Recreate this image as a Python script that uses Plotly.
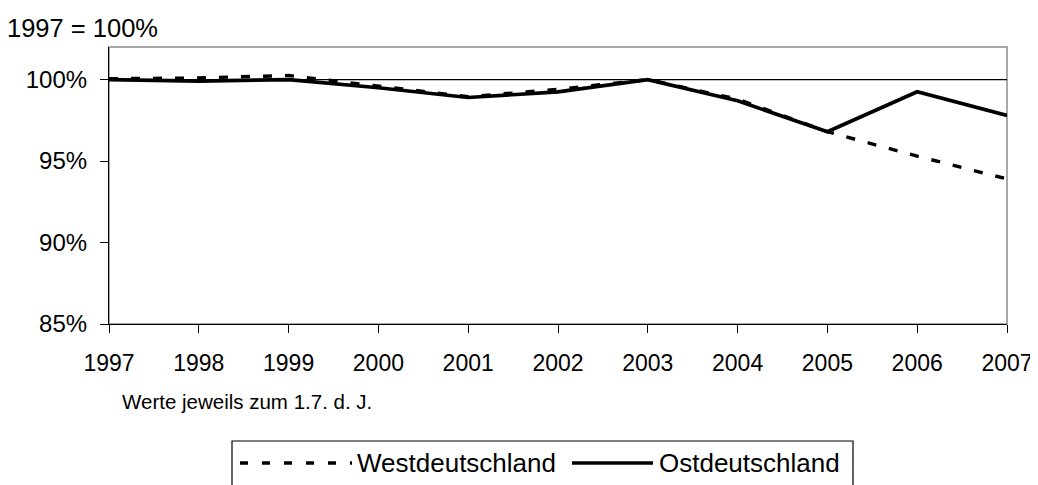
import plotly.graph_objects as go

years = [1997, 1998, 1999, 2000, 2001, 2002, 2003, 2004, 2005, 2006, 2007]
west = [100.05, 100.1, 100.25, 99.6, 98.95, 99.4, 100.0, 98.8, 96.8, 95.3, 93.9]
ost = [100.0, 99.9, 100.0, 99.5, 98.9, 99.25, 100.0, 98.7, 96.8, 99.25, 97.8]
y_ticks = [85, 90, 95, 100]
y_tick_labels = ["85%", "90%", "95%", "100%"]
series_names = ["Westdeutschland", "Ostdeutschland"]

FONT = "Liberation Sans, Arial, sans-serif"

fig = go.Figure()
fig.add_trace(go.Scatter(x=years, y=west, mode="lines", name=series_names[0],
                         line=dict(color="black", width=3.4, dash="9px,13px"),
                         showlegend=False))
fig.add_trace(go.Scatter(x=years, y=ost, mode="lines", name=series_names[1],
                         line=dict(color="black", width=3.7),
                         showlegend=False))

# page has an 8px body margin; figure coordinates are page coords minus 8
W, H = 1030, 477
ml, mr, mt, mb = 101, 31, 39, 161
pw, ph = W - ml - mr, H - mt - mb

def px(x):
    return (x - ml) / pw

def py(y):
    return (H - mb - y) / ph

shapes = [
    dict(type="rect", xref="paper", yref="paper", x0=0, x1=1, y0=0, y1=1,
         line=dict(color="#8c8c8c", width=1.5), layer="below"),
    dict(type="line", xref="paper", yref="y", x0=0, x1=1, y0=100, y1=100,
         line=dict(color="black", width=1.2), layer="below"),
    dict(type="rect", xref="paper", yref="paper", x0=px(224), x1=px(845),
         y0=py(495), y1=py(433), line=dict(color="black", width=1.2)),
    dict(type="line", xref="paper", yref="paper", x0=px(232), x1=px(344),
         y0=py(455), y1=py(455), line=dict(color="black", width=3.4, dash="8px,14px")),
    dict(type="line", xref="paper", yref="paper", x0=px(564), x1=px(645),
         y0=py(455), y1=py(455), line=dict(color="black", width=3.7)),
]

annotations = [
    dict(text="1997 = 100%", xref="paper", yref="paper", x=px(-3), y=py(20),
         xanchor="left", yanchor="middle", showarrow=False,
         font=dict(family=FONT, size=25.5, color="black")),
    dict(text="Werte jeweils zum 1.7. d. J.", xref="paper", yref="paper",
         x=px(112), y=py(393), xanchor="left", yanchor="middle", showarrow=False,
         font=dict(family=FONT, size=20.5, color="black")),
    dict(text=series_names[0], xref="paper", yref="paper", x=px(347), y=py(455),
         xanchor="left", yanchor="middle", showarrow=False,
         font=dict(family=FONT, size=26, color="black")),
    dict(text=series_names[1], xref="paper", yref="paper", x=px(649), y=py(455),
         xanchor="left", yanchor="middle", showarrow=False,
         font=dict(family=FONT, size=26, color="black")),
]

fig.update_layout(
    width=W, height=H,
    margin=dict(l=ml, r=mr, t=mt, b=mb, pad=0),
    paper_bgcolor="white", plot_bgcolor="white",
    font=dict(family=FONT, size=23, color="black"),
    shapes=shapes, annotations=annotations,
    showlegend=False,
)
fig.update_xaxes(range=[1997, 2007], tickvals=years, ticktext=[str(y) for y in years],
                 showgrid=False, zeroline=False, showline=True, linecolor="black",
                 linewidth=1.2, ticks="outside", ticklen=8, tickcolor="black",
                 tickwidth=1.2, ticklabelstandoff=10, automargin=False,
                 tickfont=dict(family=FONT, size=23, color="black"))
fig.update_yaxes(range=[85, 102], tickvals=y_ticks, ticktext=y_tick_labels,
                 showgrid=False, zeroline=False, showline=True, linecolor="black",
                 linewidth=1.2, ticks="outside", ticklen=8, tickcolor="black",
                 tickwidth=1.2, ticklabelstandoff=8, automargin=False,
                 tickfont=dict(family=FONT, size=24, color="black"))

fig.write_html("out.html")
